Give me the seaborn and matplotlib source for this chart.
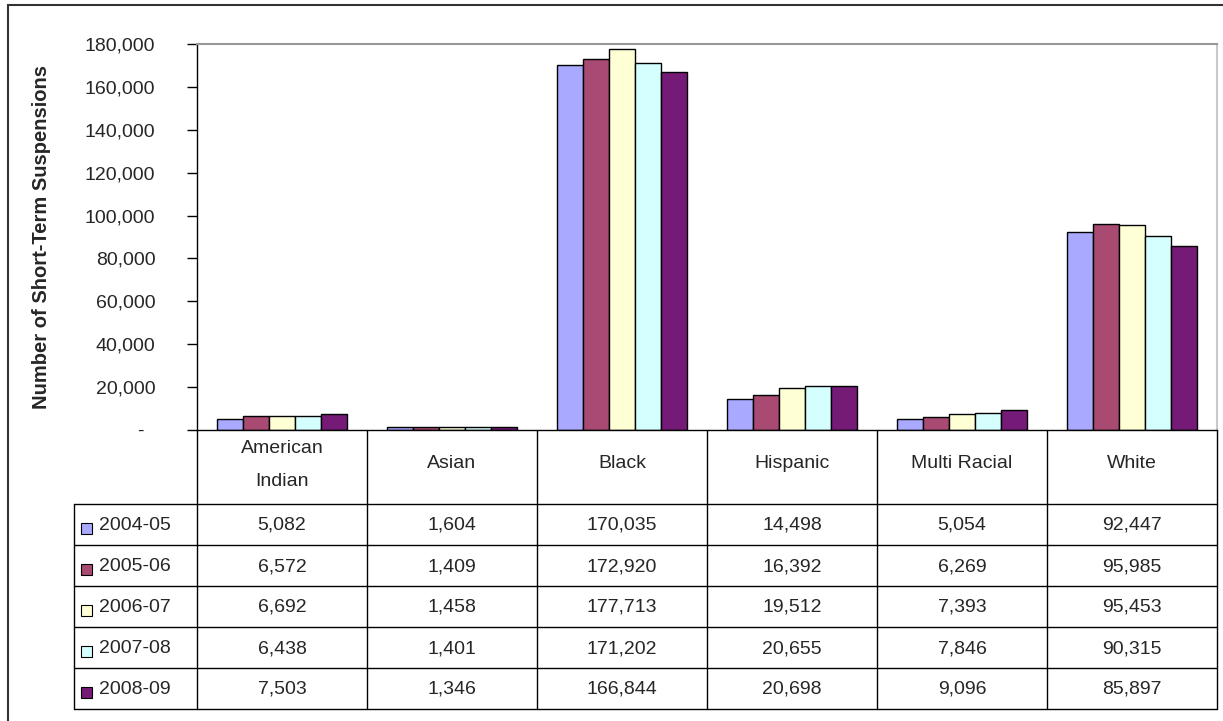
import pandas as pd
import matplotlib
matplotlib.use("Agg")
import matplotlib.pyplot as plt
import matplotlib.transforms as mtransforms
from matplotlib.lines import Line2D
from matplotlib.patches import Rectangle
from matplotlib.ticker import FuncFormatter
import seaborn as sns

categories = ["American\nIndian", "Asian", "Black", "Hispanic", "Multi Racial", "White"]
years = ["2004-05", "2005-06", "2006-07", "2007-08", "2008-09"]
v_2004_05 = [5082, 1604, 170035, 14498, 5054, 92447]
v_2005_06 = [6572, 1409, 172920, 16392, 6269, 95985]
v_2006_07 = [6692, 1458, 177713, 19512, 7393, 95453]
v_2007_08 = [6438, 1401, 171202, 20655, 7846, 90315]
v_2008_09 = [7503, 1346, 166844, 20698, 9096, 85897]
series = [v_2004_05, v_2005_06, v_2006_07, v_2007_08, v_2008_09]
colors = ["#A9A9FF", "#A94A72", "#FFFFD5", "#D5FFFF", "#761A78"]

rows = []
for year, vals in zip(years, series):
    for cat, v in zip(categories, vals):
        rows.append({"Category": cat, "Year": year, "Suspensions": v})
df = pd.DataFrame(rows)

sns.set_theme(style="white")
plt.rcParams["font.family"] = ["Liberation Sans", "DejaVu Sans"]

W, H = 1223, 721
fig = plt.figure(figsize=(W / 100, H / 100), dpi=100)


def fx(px):
    return px / W


def fy(py):
    return 1 - py / H


# plot area in pixels: left 197, right 1217, top 44, bottom 430
ax = fig.add_axes([fx(197), fy(430), fx(1217) - fx(197), fy(44) - fy(430)])

sns.barplot(data=df, x="Category", y="Suspensions", hue="Year",
            order=categories, hue_order=years, palette=colors,
            width=0.77, gap=0, edgecolor="black", linewidth=1,
            saturation=1, legend=False, ax=ax, errorbar=None)

ax.set_xlim(-0.5, len(categories) - 0.5)
ax.set_ylim(0, 180000)
ax.set_yticks(range(0, 180001, 20000))
ax.yaxis.set_major_formatter(FuncFormatter(lambda v, p: "-  " if v == 0 else f"{v:,.0f}"))
ax.tick_params(axis="y", which="major", direction="out", length=7, width=1,
               color="black", pad=23, labelsize=14, left=True)
ax.set_xticks([])
ax.set_xlabel("")
ax.set_ylabel("Number of Short-Term Suspensions", fontsize=14.5, fontweight="bold")
ax.yaxis.set_label_coords(-0.143, 0.5)

ax.spines["top"].set_color("#999999")
ax.spines["top"].set_linewidth(1.5)
ax.spines["right"].set_color("#C8C8C8")
ax.spines["right"].set_linewidth(1.5)
ax.spines["left"].set_color("black")
ax.spines["bottom"].set_color("black")
ax.spines["left"].set_linewidth(1)
ax.spines["bottom"].set_linewidth(1)

# ---------------- data table under the plot ----------------
tr = mtransforms.blended_transform_factory(ax.transData, fig.transFigure)
header_top, header_bot = 430, 504
row_h = 41
n = len(categories)
table_bot = header_bot + row_h * len(years)


def hline(x0, x1, py):
    fig.add_artist(Line2D([fx(x0), fx(x1)], [fy(py), fy(py)], color="black", lw=1))


def vline(px, y0, y1):
    fig.add_artist(Line2D([fx(px), fx(px)], [fy(y0), fy(y1)], color="black", lw=1))


# vertical lines between category columns
for i in range(n + 1):
    xd = i - 0.5
    fig.add_artist(Line2D([xd, xd], [fy(header_top), fy(table_bot)], color="black",
                          lw=1, transform=tr))
vline(74, header_bot, table_bot)

# horizontal lines
for r in range(len(years) + 1):
    hline(74, 1217, header_bot + r * row_h)

# category headers
for i, cat in enumerate(categories):
    yc = 465 if "\n" in cat else 463
    fig.text(i, fy(yc), cat, transform=tr, ha="center", va="center",
             fontsize=14, linespacing=2.2)

# rows: legend swatch, year, values
for r, (year, vals, col) in enumerate(zip(years, series, colors)):
    yc = header_bot + r * row_h + row_h / 2 + 1
    fig.add_artist(Rectangle((fx(81), fy(yc + 8)), fx(11), fy(0) - fy(11),
                             facecolor=col, edgecolor="black", lw=0.8,
                             transform=fig.transFigure))
    fig.text(fx(99), fy(yc), year, ha="left", va="center", fontsize=14)
    for i, v in enumerate(vals):
        fig.text(i, fy(yc), f"{v:,}", transform=tr, ha="center", va="center",
                 fontsize=14)

# outer chart frame (cropped at right and bottom)
fig.add_artist(Rectangle((fx(8), fy(740)), fx(1240) - fx(8), fy(5) - fy(740),
                         facecolor="none", edgecolor="#333333", lw=1.5,
                         transform=fig.transFigure))

plt.savefig("out.png", dpi=100)
plt.close()
